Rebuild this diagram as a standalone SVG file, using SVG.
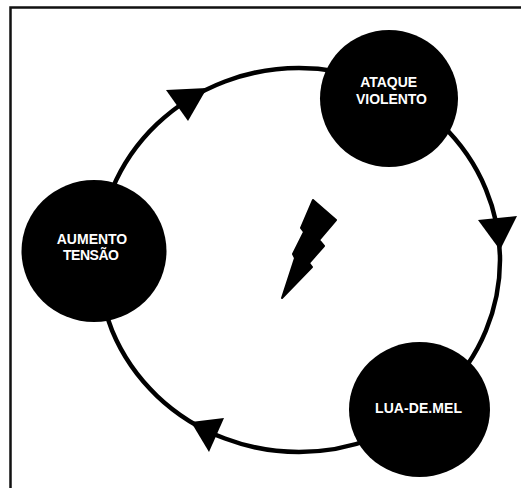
<svg xmlns="http://www.w3.org/2000/svg" width="521" height="488" viewBox="0 0 521 488">
<style>
.n{fill:#000}
.t{fill:#fff;font:bold 14px "Liberation Sans",Arial,sans-serif;text-anchor:middle}
</style>
<rect width="521" height="488" fill="#fff"/>
<path id="frame" d="M10.5 488V7.5H521" fill="none" stroke="#111" stroke-width="2.5"/>
<g id="connectors">
<ellipse cx="299" cy="260" rx="201" ry="192" fill="none" stroke="#000" stroke-width="4.5"/>
<path class="n" d="M166 90L207 88L188 121Z"/>
<path class="n" d="M478 220L517 216L500 250Z"/>
<path class="n" d="M191 422L224 418L209 452Z"/>
</g>
<g id="ataque"><ellipse class="n" cx="389" cy="98.500" rx="69" ry="68.500"/><text class="t" x="388.700" y="87" textLength="57" lengthAdjust="spacing">ATAQUE</text><text class="t" x="391.500" y="104" textLength="71" lengthAdjust="spacing">VIOLENTO</text></g>
<g id="aumento"><ellipse class="n" cx="94" cy="251" rx="72.500" ry="71"/><text class="t" x="92" y="244" textLength="70.500" lengthAdjust="spacing">AUMENTO</text><text class="t" x="91" y="260" textLength="56" lengthAdjust="spacing">TENSÃO</text></g>
<g id="lua"><ellipse class="n" cx="419.500" cy="409.500" rx="70.500" ry="67.500"/><text class="t" x="418.500" y="413" textLength="87" lengthAdjust="spacing">LUA-DE.MEL</text></g>
<path id="raio" class="n" stroke="#000" stroke-width="2" stroke-linejoin="round" d="M313 200L336 220L319 240L324 246L309 263L312 267L282 298L295 258L293 254L304 232L301 228Z"/>
</svg>
